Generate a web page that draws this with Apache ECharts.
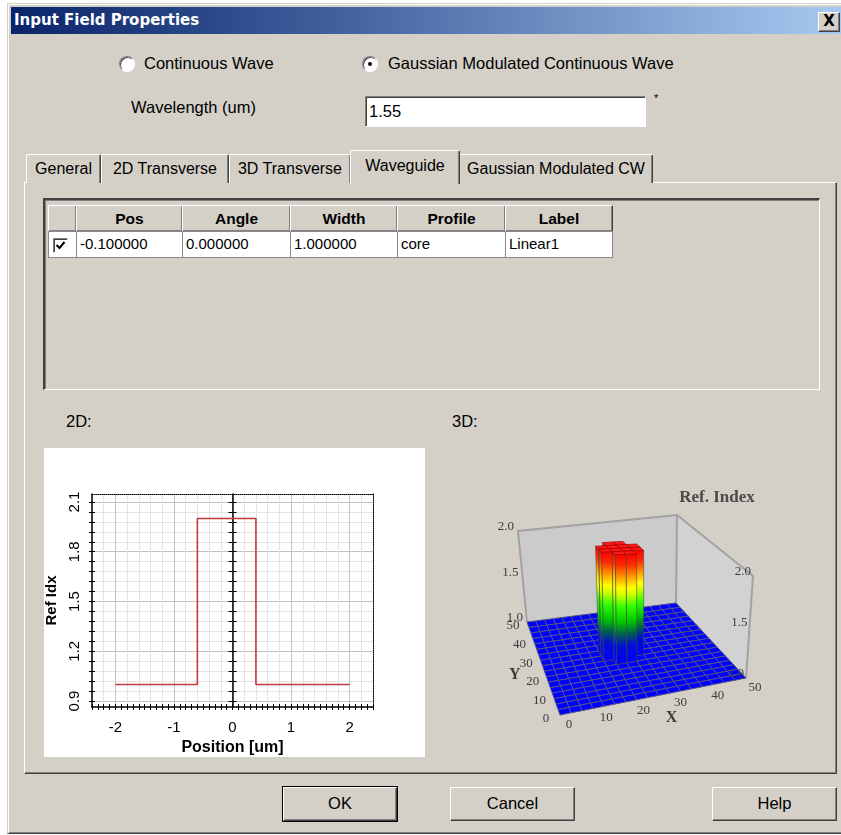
<!DOCTYPE html>
<html><head><meta charset="utf-8">
<script src="https://cdn.jsdelivr.net/npm/echarts@6.0.0/dist/echarts.min.js"></script>
<style>
*{box-sizing:border-box;}
body{margin:0;width:841px;height:835px;overflow:hidden;background:#fff;position:relative;font-family:"Liberation Sans",Arial,sans-serif;color:#000;}
.a{position:absolute;}
.raised{background:#d4d0c8;border-top:1px solid #fff;border-left:1px solid #fff;border-right:1px solid #404040;border-bottom:1px solid #404040;box-shadow:inset -1px -1px #808080;}
.sunken{background:#fff;border-top:1px solid #808080;border-left:1px solid #808080;border-right:1px solid #fff;border-bottom:1px solid #fff;box-shadow:inset 1px 1px #404040;}
.t16{font-size:16.5px;line-height:20px;white-space:nowrap;}
.tab{background:#d4d0c8;border-top:1px solid #fff;border-left:1px solid #fff;border-right:1px solid #404040;box-shadow:inset -1px 0 #808080;font-size:16px;text-align:center;white-space:nowrap;border-radius:2px 2px 0 0;}
.hc{position:absolute;top:205px;height:27px;font-weight:bold;font-size:15.5px;line-height:25px;text-align:center;}
.dc{position:absolute;top:231px;height:27px;background:#fff;border:1px solid #8a8a8a;font-size:15px;line-height:24px;padding-left:3px;white-space:nowrap;}
.btn{position:absolute;background:#d4d0c8;border-top:1px solid #fff;border-left:1px solid #fff;border-right:1px solid #404040;border-bottom:1px solid #404040;box-shadow:inset -1px -1px #808080;font-size:16.5px;text-align:center;}
</style></head>
<body>
<!-- dialog frame -->
<div class="a" style="left:7px;top:3px;width:840px;height:831px;background:#d4d0c8;border-top:1px solid #d4d0c8;border-left:1px solid #d4d0c8;border-bottom:1px solid #404040;box-shadow:inset 1px 1px #fff, inset 0 -1px #808080;"></div>
<div class="a" style="left:11px;top:7px;width:830px;height:27px;background:linear-gradient(to right,#0a246a 0%,#3a5a98 35%,#a6caf0 100%);"></div>
<div class="a" style="left:14px;top:7px;height:27px;line-height:27px;color:#fff;font-family:'DejaVu Sans',sans-serif;font-weight:bold;font-size:15px;white-space:nowrap;">Input Field Properties</div>
<div class="btn" style="left:818px;top:12px;width:22px;height:20px;font-family:'DejaVu Sans',sans-serif;font-weight:bold;font-size:15px;line-height:17px;">X</div>

<!-- radios -->
<div class="a sunken" style="left:119px;top:56px;width:16px;height:16px;border-radius:50%;"></div>
<div class="a t16" style="left:144px;top:53px;">Continuous Wave</div>
<div class="a sunken" style="left:362px;top:56px;width:16px;height:16px;border-radius:50%;"></div>
<div class="a" style="left:368px;top:62px;width:4px;height:4px;border-radius:50%;background:#000;"></div>
<div class="a t16" style="left:388px;top:53px;">Gaussian Modulated Continuous Wave</div>
<div class="a t16" style="left:131px;top:97px;">Wavelength (um)</div>
<div class="a sunken" style="left:365px;top:96px;width:281px;height:31px;font-size:16.5px;line-height:29px;padding-left:3px;">1.55</div>
<div class="a" style="left:654px;top:92px;font-size:11px;">*</div>

<!-- tab panel -->
<div class="a" style="left:24px;top:182px;width:813px;height:592px;background:#d4d0c8;border-top:1px solid #fff;border-left:1px solid #fff;border-right:1px solid #404040;border-bottom:1px solid #404040;box-shadow:inset -1px -1px #808080;"></div>
<div class="a tab" style="left:26px;top:154px;width:75px;height:29px;line-height:28px;">General</div>
<div class="a tab" style="left:101px;top:154px;width:128px;height:29px;line-height:28px;">2D Transverse</div>
<div class="a tab" style="left:229px;top:154px;width:122px;height:29px;line-height:28px;">3D Transverse</div>
<div class="a tab" style="left:459px;top:154px;width:194px;height:29px;line-height:28px;">Gaussian Modulated CW</div>
<div class="a tab" style="left:350px;top:150px;width:110px;height:34px;line-height:30px;">Waveguide</div>

<!-- table -->
<div class="a" style="left:43px;top:198px;width:777px;height:192px;background:#d4d0c8;border-top:2px solid #404040;border-left:2px solid #404040;border-right:1px solid #fff;border-bottom:1px solid #fff;box-shadow:inset 1px 1px #808080, 1px 1px #d4d0c8;"></div>
<div class="hc raised" style="left:48px;width:29px;"></div>
<div class="hc raised" style="left:76px;width:107px;">Pos</div>
<div class="hc raised" style="left:182px;width:109px;">Angle</div>
<div class="hc raised" style="left:290px;width:108px;">Width</div>
<div class="hc raised" style="left:397px;width:109px;">Profile</div>
<div class="hc raised" style="left:505px;width:108px;">Label</div>
<div class="dc" style="left:48px;width:29px;"></div>
<div class="a sunken" style="left:53px;top:238px;width:15px;height:15px;"></div>
<svg class="a" style="left:55px;top:240px;" width="11" height="11"><polyline points="1.5,5 4.5,8 9.5,2" fill="none" stroke="#000" stroke-width="2"/></svg>
<div class="dc" style="left:76px;width:107px;">-0.100000</div>
<div class="dc" style="left:182px;width:109px;">0.000000</div>
<div class="dc" style="left:290px;width:108px;">1.000000</div>
<div class="dc" style="left:397px;width:109px;">core</div>
<div class="dc" style="left:505px;width:108px;">Linear1</div>

<div class="a t16" style="left:66px;top:411px;">2D:</div>
<div class="a t16" style="left:452px;top:411px;">3D:</div>

<div id="c2d" class="a" style="left:44px;top:448px;width:381px;height:309px;background:#fff;"></div>
<div id="c3d" class="a" style="left:430px;top:440px;width:400px;height:330px;"></div>

<div class="btn" style="left:282px;top:786px;width:116px;height:36px;border:1px solid #000;padding:0;">
  <div style="position:absolute;left:0;top:0;right:0;bottom:0;border-top:1px solid #fff;border-left:1px solid #fff;border-right:1px solid #404040;border-bottom:1px solid #404040;box-shadow:inset -1px -1px #808080;line-height:31px;">OK</div></div>
<div class="btn" style="left:450px;top:787px;width:125px;height:34px;line-height:31px;">Cancel</div>
<div class="btn" style="left:712px;top:787px;width:125px;height:34px;line-height:31px;">Help</div>

<script>
// ---------------- 2D data ----------------
const positionUm = [-2, -0.6, -0.6, 0.4, 0.4, 2];
const refIdx     = [1.0, 1.0, 2.0, 2.0, 1.0, 1.0];
const xLabelValues = [-2, -1, 0, 1, 2];
const yLabelValues = [0.9, 1.2, 1.5, 1.8, 2.1];

// ---------------- 3D data ----------------
const floorTiles = 17;                 // tiles per side of the 3D floor
const xTicks3d = [0, 10, 20, 30, 40, 50];
const yTicks3d = [0, 10, 20, 30, 40, 50];
const zTicksLeft3d = [1.0, 1.5, 2.0];
const zTicksRight3d = [1.0, 1.5, 2.0];
const claddingIndex = 1.0;
const coreIndex = 2.0;
const coreCells = [[7,7],[8,7],[6,8],[7,8],[8,8],[9,8],[6,9],[7,9],[8,9],[9,9],[7,10],[8,10]];

// ================= 2D chart =================
const yTickValues = [];
for (let k = 0; k <= 20; k++) yTickValues.push(+(0.9 + 0.06 * k).toFixed(2));
const majorGrid = '#c2c2c2', minorGrid = '#e4e4e4';
const FONT = 'Liberation Sans';
const fmtX = v => { const r = Math.round(v); return Math.abs(v - r) < 1e-6 && xLabelValues.indexOf(r) >= 0 ? String(r) : ''; };
const tickStyle = {color:'#000', width:1};
const xBase = {type:'value', min:-2.4, max:2.4, interval:0.2};
const yBase = {type:'value', min:0.864, max:2.148};
const c2 = echarts.init(document.getElementById('c2d'));
c2.setOption({
  animation:false,
  grid:{left:48, top:46, right:52, bottom:50, containLabel:false, outerBoundsMode:'none'},
  xAxis:[
    Object.assign({}, xBase, {position:'bottom',
      axisLine:{onZero:false, lineStyle:{color:'#000', width:1.5}},
      axisTick:{show:true, inside:false, length:3, lineStyle:tickStyle},
      minorTick:{show:true, splitNumber:2, length:3, lineStyle:tickStyle},
      axisLabel:{formatter:fmtX, fontSize:15, color:'#000', margin:13, fontFamily:FONT},
      name:'Position [um]', nameLocation:'middle', nameGap:33,
      nameTextStyle:{fontWeight:'bold', fontSize:16, color:'#000', fontFamily:FONT},
      splitLine:{show:true, lineStyle:{color:[minorGrid,minorGrid,majorGrid,minorGrid,minorGrid], width:1}}}),
    Object.assign({}, xBase, {position:'bottom',
      axisLine:{show:false, onZero:false},
      axisTick:{show:true, inside:true, length:3, lineStyle:tickStyle},
      minorTick:{show:true, splitNumber:2, length:3, lineStyle:tickStyle},
      axisLabel:{show:false}, splitLine:{show:false}}),
    Object.assign({}, xBase, {position:'top',
      axisLine:{onZero:false, lineStyle:{color:'#000', width:1, type:'dotted'}},
      axisTick:{show:false}, axisLabel:{show:false}, splitLine:{show:false}})
  ],
  yAxis:[
    Object.assign({}, yBase, {position:'left',
      axisLine:{onZero:false, lineStyle:{color:'#000', width:1.5}},
      axisTick:{show:true, customValues:yTickValues, inside:false, length:3, lineStyle:tickStyle},
      axisLabel:{customValues:yLabelValues, rotate:90, formatter:v => (+v).toFixed(1), fontSize:15, color:'#000', margin:10, fontFamily:FONT},
      name:'Ref Idx', nameLocation:'middle', nameGap:30,
      nameTextStyle:{fontWeight:'bold', fontSize:15, color:'#000', fontFamily:FONT},
      splitLine:{show:true, lineStyle:{color:[majorGrid,minorGrid,minorGrid,minorGrid,minorGrid], width:1}}}),
    Object.assign({}, yBase, {position:'left',
      axisLine:{show:false, onZero:false},
      axisTick:{show:true, customValues:yTickValues, inside:true, length:3, lineStyle:tickStyle},
      axisLabel:{show:false}, splitLine:{show:false}}),
    Object.assign({}, yBase, {position:'left',
      axisLine:{show:true, onZero:true, onZeroAxisIndex:0, lineStyle:{color:'#000', width:1.5}},
      axisTick:{show:true, customValues:yTickValues, inside:false, length:4, lineStyle:tickStyle},
      axisLabel:{show:false}, splitLine:{show:false}}),
    Object.assign({}, yBase, {position:'left',
      axisLine:{show:false, onZero:true, onZeroAxisIndex:0},
      axisTick:{show:true, customValues:yTickValues, inside:true, length:4, lineStyle:tickStyle},
      axisLabel:{show:false}, splitLine:{show:false}}),
    Object.assign({}, yBase, {position:'right',
      axisLine:{onZero:false, lineStyle:{color:'#000', width:1, type:'dotted'}},
      axisTick:{show:false}, axisLabel:{show:false}, splitLine:{show:false}})
  ],
  series:[{
    type:'line', xAxisIndex:0, yAxisIndex:0, symbol:'none', silent:true,
    lineStyle:{color:'#c23b3b', width:1.6},
    data: positionUm.map((x, i) => [x, refIdx[i]])
  }]
});

// ================= 3D chart =================
// simple perspective-like view: floor corner positions and vertical unit vectors (px)
const view = {
  F:[130,275], R:[316,238], BL:[97,182], B:[246,163],
  uF:[-3,-139], uR:[7,-102], uBL:[-9,-91], uB:[1,-88],
  extent:50, zMin:1.0, zMax:2.0
};
function P(x, y, z) {
  const u = x / view.extent, v = y / view.extent;
  const w = [(1-u)*(1-v), u*(1-v), (1-u)*v, u*v];
  const C = [view.F, view.R, view.BL, view.B], U = [view.uF, view.uR, view.uBL, view.uB];
  const t = (z - view.zMin) / (view.zMax - view.zMin);
  let px = 0, py = 0;
  for (let i = 0; i < 4; i++) { px += w[i]*(C[i][0] + U[i][0]*t); py += w[i]*(C[i][1] + U[i][1]*t); }
  return [px, py];
}
const cells = [];
const isCore = (ix, iy) => coreCells.some(c => c[0] === ix && c[1] === iy);
for (let ix = 0; ix < floorTiles; ix++)
  for (let iy = 0; iy < floorTiles; iy++)
    cells.push([ix, iy, isCore(ix, iy) ? coreIndex : claddingIndex]);
cells.sort((a, b) => (a[2] - b[2]) || ((b[0] + b[1]) - (a[0] + a[1])));

const sideGrad = {type:'linear', x:0, y:1, x2:0, y2:0, colorStops:[
  {offset:0, color:'#0000ff'}, {offset:0.17, color:'#0010d0'}, {offset:0.27, color:'#005a50'},
  {offset:0.38, color:'#00c400'}, {offset:0.52, color:'#30ff00'}, {offset:0.63, color:'#d0ff00'},
  {offset:0.69, color:'#ffff00'}, {offset:0.79, color:'#ff9a00'}, {offset:0.9, color:'#ff2a00'},
  {offset:1, color:'#ff0000'}]};
const sideGradDark = {type:'linear', x:0, y:1, x2:0, y2:0, colorStops:sideGrad.colorStops.map(s => ({offset:s.offset, color:echarts.color.lift(s.color, -0.12)}))};
const tile = view.extent / floorTiles;
const serif = 'Liberation Serif';

function renderFrame() {
  const BL1 = P(0,50,1), BL2 = P(0,50,2), B1 = P(50,50,1), B2 = P(50,50,2), R1 = P(50,0,1), R2 = P(50,0,2);
  return {type:'group', children:[
    {type:'polygon', shape:{points:[BL1, BL2, B2, B1]}, style:{fill:'#cbcbcb'}},
    {type:'polygon', shape:{points:[B1, B2, R2, R1]}, style:{fill:'#d2d2d2'}},
    {type:'polyline', shape:{points:[BL1, BL2, B2, R2, R1]}, style:{fill:null, stroke:'#a2a2a2', lineWidth:2}},
    {type:'line', shape:{x1:B2[0], y1:B2[1], x2:B1[0], y2:B1[1]}, style:{stroke:'#a2a2a2', lineWidth:2}}
  ]};
}
function renderCell(params, api) {
  const ix = api.value(0), iy = api.value(1), h = api.value(2);
  const x0 = ix*tile, x1 = x0 + tile, y0 = iy*tile, y1 = y0 + tile;
  const top = [P(x0,y0,h), P(x1,y0,h), P(x1,y1,h), P(x0,y1,h)];
  if (h <= claddingIndex) {
    return {type:'polygon', shape:{points:top}, style:{fill:'#0000ff', stroke:'#50508a', lineWidth:1}};
  }
  const base = view.zMin;
  return {type:'group', children:[
    {type:'polygon', shape:{points:[P(x0,y0,base), P(x0,y1,base), P(x0,y1,h), P(x0,y0,h)]}, style:{fill:sideGradDark, stroke:'rgba(70,70,70,0.55)', lineWidth:1}},
    {type:'polygon', shape:{points:[P(x0,y0,base), P(x1,y0,base), P(x1,y0,h), P(x0,y0,h)]}, style:{fill:sideGrad, stroke:'rgba(70,70,70,0.55)', lineWidth:1}},
    {type:'polygon', shape:{points:top}, style:{fill:'#ff1a1a', stroke:'rgba(170,0,0,0.7)', lineWidth:1}}
  ]};
}
function txt(p, s, opt) {
  return {type:'text', x:p[0], y:p[1], style:Object.assign({text:s, fill:'#3c3c3c', fontFamily:serif, fontSize:13, align:'center', verticalAlign:'middle'}, opt || {})};
}
function renderLabels() {
  const ch = [];
  zTicksLeft3d.forEach(z => { const p = P(0,50,z); ch.push(txt([p[0]-4, p[1]-4], z.toFixed(1), {align:'right'})); });
  zTicksRight3d.forEach(z => { const p = P(50,0,z); ch.push(txt([p[0]-2, p[1]-4], z.toFixed(1), {align:'right'})); });
  yTicks3d.forEach(y => { const p = P(0,y,1); ch.push(txt([p[0]-14, p[1]+4], String(y))); });
  xTicks3d.forEach(x => { const p = P(x,0,1); ch.push(txt([p[0]+9, p[1]+10], String(x))); });
  const px = P(30,0,1), py = P(0,20,1), pr = P(50,50,2);
  ch.push(txt([px[0], px[1]+25], 'X', {fontWeight:'bold', fontSize:16}));
  ch.push(txt([py[0]-32, py[1]-3], 'Y', {fontWeight:'bold', fontSize:16}));
  ch.push(txt([pr[0]+40, pr[1]-17], 'Ref. Index', {fontWeight:'bold', fontSize:17, fill:'#4a4a4a'}));
  return {type:'group', children:ch};
}
const c3 = echarts.init(document.getElementById('c3d'));
c3.setOption({
  animation:false,
  series:[
    {type:'custom', coordinateSystem:'none', z:1, silent:true, data:[[0]], renderItem:renderFrame},
    {type:'custom', coordinateSystem:'none', z:2, silent:true, data:cells, dimensions:['ix','iy','index'], renderItem:renderCell},
    {type:'custom', coordinateSystem:'none', z:3, silent:true, data:[[0]], renderItem:renderLabels}
  ]
});
</script>
</body></html>
